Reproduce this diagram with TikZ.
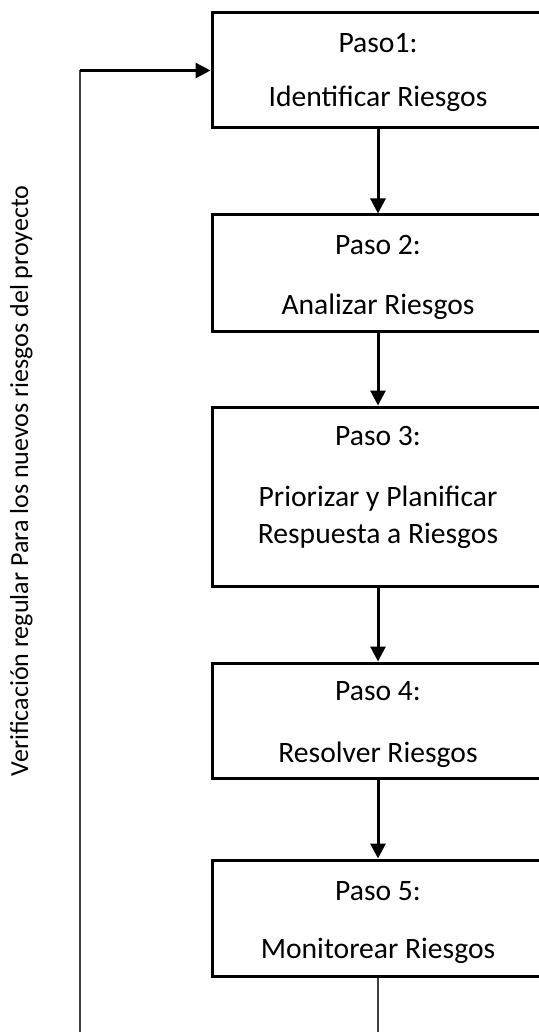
\documentclass[tikz,border=0pt]{standalone}
\usepackage{fontspec}
\setmainfont{Carlito}
\usetikzlibrary{arrows.meta,positioning}

\tikzset{
  stepbox/.style={draw, line width=1.5pt, minimum width=166pt, inner sep=0pt},
  steptext/.style={font=\fontsize{14.8}{18}\selectfont, inner sep=0pt, anchor=base},
  sidetext/.style={font=\fontsize{13}{16}\selectfont, inner sep=0pt, anchor=base},
  flow/.style={line width=1.5pt, -{Triangle[width=7.5pt,length=7.5pt]}},
  thinline/.style={line width=1pt, black!75},
}

\begin{document}
\begin{tikzpicture}[x=0.5pt, y=-0.5pt]
  \useasboundingbox (0,0) rectangle (539,1032);
  \clip (0,0) rectangle (539,1032);

  % Boxes
  \node[stepbox, minimum height=57.5pt] (paso1) at (378,70.5) {};
  \node[stepbox, minimum height=58pt] (paso2) at (378,273) {};
  \node[stepbox, minimum height=89.5pt] (paso3) at (378,496.5) {};
  \node[stepbox, minimum height=57.5pt] (paso4) at (378,720.5) {};
  \node[stepbox, minimum height=58pt] (paso5) at (378,918) {};

  % Texts
  \node[steptext] (t1a) at (378,53) {Paso1:};
  \node[steptext] (t1b) at (378,107) {Identificar Riesgos};
  \node[steptext] (t2a) at (378,255) {Paso 2:};
  \node[steptext] (t2b) at (378,314) {Analizar Riesgos};
  \node[steptext] (t3a) at (378,445) {Paso 3:};
  \node[steptext] (t3b) at (378,506) {Priorizar y Planificar};
  \node[steptext] (t3c) at (378,543) {Respuesta a Riesgos};
  \node[steptext] (t4a) at (378,700) {Paso 4:};
  \node[steptext] (t4b) at (378,762) {Resolver Riesgos};
  \node[steptext] (t5a) at (378,900) {Paso 5:};
  \node[steptext] (t5b) at (378,958) {Monitorear Riesgos};

  % Side label
  \node[sidetext, rotate=90] (check) at (28,481) {Verificación regular Para los nuevos riesgos del proyecto};

  % Arrows
  \draw[flow] (paso1) -- (paso2);
  \draw[flow] (paso2) -- (paso3);
  \draw[flow] (paso3) -- (paso4);
  \draw[flow] (paso4) -- (paso5);

  % Loop back
  \coordinate (outbot) at (378,1032);
  \coordinate (loopbot) at (80,1032);
  \coordinate (looptop) at (80,70.5);
  \draw[thinline] (paso5) -- (outbot);
  \draw[thinline] (loopbot) -- (looptop);
  \draw[flow] (looptop) -- (paso1);
\end{tikzpicture}
\end{document}
